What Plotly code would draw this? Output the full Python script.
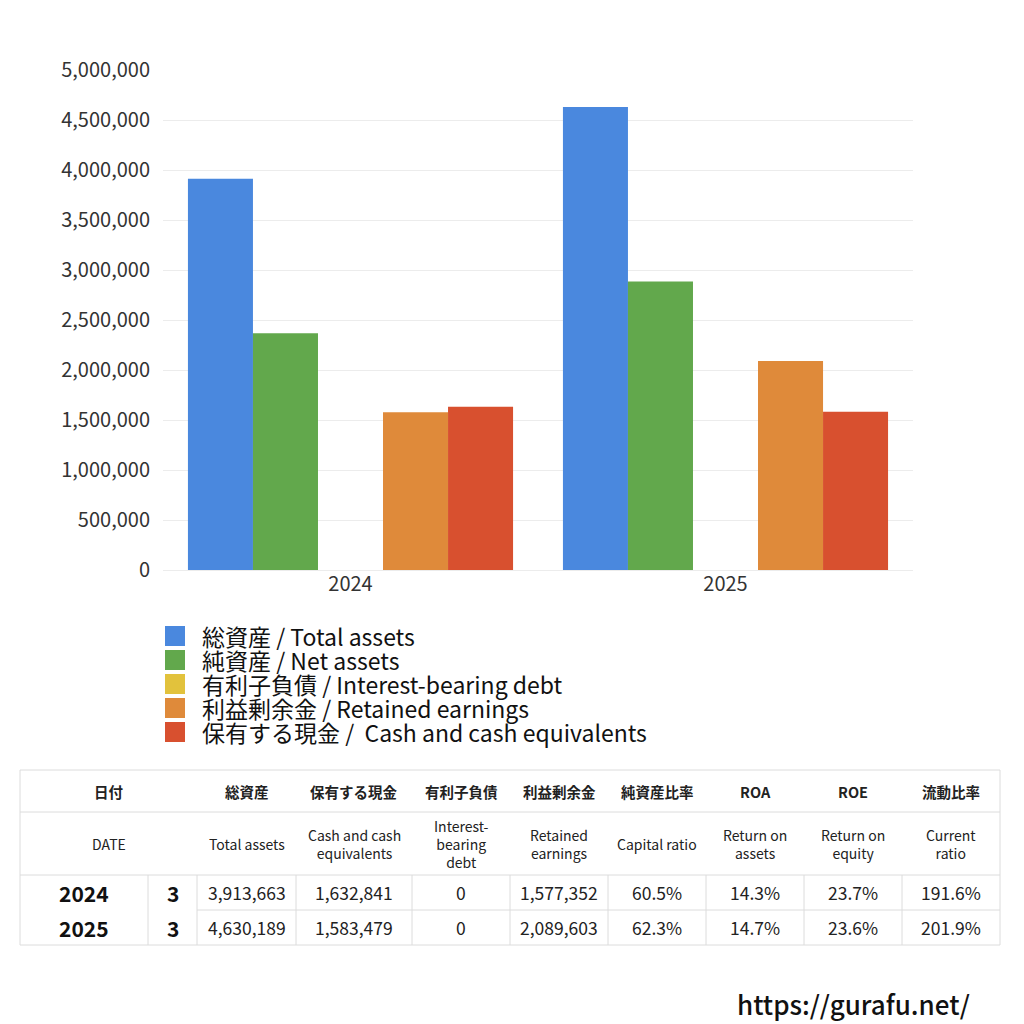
import plotly.graph_objects as go

# ---------------- data ----------------
years = ["2024", "2025"]
total_assets = [3913663, 4630189]
net_assets = [2368000, 2885000]
interest_debt = [0, 0]
retained_earnings = [1577352, 2089603]
cash = [1632841, 1583479]

months = ["3", "3"]
capital_ratio = ["60.5%", "62.3%"]
roa = ["14.3%", "14.7%"]
roe = ["23.7%", "23.6%"]
current_ratio = ["191.6%", "201.9%"]

series_names = [
    "総資産 / Total assets",
    "純資産 / Net assets",
    "有利子負債 / Interest-bearing debt",
    "利益剰余金 / Retained earnings",
    "保有する現金 /  Cash and cash equivalents",
]
series_colors = ["#4a88de", "#62a84c", "#e2c23c", "#df8a3a", "#d8502f"]

table_head_jp = ["日付", "総資産", "保有する現金", "有利子負債", "利益剰余金",
                 "純資産比率", "ROA", "ROE", "流動比率"]
table_head_en = ["DATE", "Total assets", "Cash and cash<br>equivalents",
                 "Interest-<br>bearing<br>debt", "Retained<br>earnings",
                 "Capital ratio", "Return on<br>assets", "Return on<br>equity",
                 "Current<br>ratio"]

W = H = 1024
OFF = 8  # page body margin
FONT = "Noto Sans CJK JP"


def px(x):
    return (x - OFF) / W


def py(y):
    return 1 - (y - OFF) / H


fig = go.Figure()
series_values = [total_assets, net_assets, interest_debt, retained_earnings, cash]
for name, vals, col in zip(series_names, series_values, series_colors):
    fig.add_trace(go.Bar(x=years, y=vals, name=name, showlegend=False,
                         marker=dict(color=col, line=dict(width=0))))

fig.update_layout(
    width=W, height=H,
    margin=dict(l=0, r=0, t=0, b=0, pad=0, autoexpand=False),
    paper_bgcolor="white", plot_bgcolor="white",
    font=dict(family=FONT, color="#222"),
    barmode="group", bargap=0.133, bargroupgap=0,
    xaxis=dict(domain=[px(163), px(913)], showgrid=False, showline=False, automargin=False,
               ticks="", tickfont=dict(size=20, color="#333"), type="category"),
    yaxis=dict(domain=[py(570), py(70)], range=[0, 5000000], dtick=500000, automargin=False,
               tickformat=",", showgrid=True, gridcolor="#ececec", gridwidth=1,
               zeroline=True, zerolinecolor="#ececec", zerolinewidth=1,
               showline=False, ticks="", ticklabelstandoff=12,
               tickfont=dict(size=20, color="#333")),
    showlegend=False,
)

shapes = []
annots = []

# ---------------- legend (manual, one row per series) ----------------
legend_x = 165
legend_rows = [636, 660, 684, 708, 732]
for name, col, ry in zip(series_names, series_colors, legend_rows):
    shapes.append(dict(type="rect", xref="paper", yref="paper",
                       x0=px(legend_x), x1=px(legend_x + 20), y0=py(ry + 10), y1=py(ry - 10),
                       fillcolor=col, line=dict(width=0)))
    annots.append(dict(xref="paper", yref="paper", x=px(legend_x + 35), y=py(ry), text=name,
                       showarrow=False, xanchor="left", yanchor="middle",
                       font=dict(size=23, family=FONT, color="#111")))

# ---------------- table ----------------
LC = "#dcdcdc"
left, right = 20, 1000
y_top, y_h1, y_h2, y_r1, y_bot = 770, 812, 875, 910, 945
col_edges = [20, 148, 197, 296, 412, 510, 608, 706, 804, 902, 1000]


def hline(x0, x1, y):
    shapes.append(dict(type="line", xref="paper", yref="paper", x0=px(x0), x1=px(x1),
                       y0=py(y), y1=py(y), line=dict(color=LC, width=1)))


def vline(x, y0, y1):
    shapes.append(dict(type="line", xref="paper", yref="paper", x0=px(x), x1=px(x),
                       y0=py(y0), y1=py(y1), line=dict(color=LC, width=1)))


hline(left, right, y_top)
hline(left, right, y_h1)
hline(left, right, y_h2)
hline(col_edges[2], right, y_r1)
hline(left, right, y_bot)
vline(left, y_top, y_bot)
vline(right, y_top, y_bot)
for e in col_edges[1:-1]:
    vline(e, y_h2, y_bot)


def text(x, y, s, size, bold=False, color="#222"):
    annots.append(dict(xref="paper", yref="paper", x=px(x), y=py(y), text=s,
                       showarrow=False, xanchor="center", yanchor="middle",
                       font=dict(size=size, family=FONT, color=color,
                                 weight="bold" if bold else "normal")))


hcenters = [(col_edges[0] + col_edges[2]) / 2] + [
    (col_edges[i] + col_edges[i + 1]) / 2 for i in range(2, len(col_edges) - 1)]
for cx, jp, en in zip(hcenters, table_head_jp, table_head_en):
    text(cx, (y_top + y_h1) / 2, jp, 14.5, bold=True)
    text(cx, (y_h1 + y_h2) / 2, en, 14, bold=False)

row_ys = [(y_h2 + y_r1) / 2, (y_r1 + y_bot) / 2]
for i in range(len(years)):
    row = [f"{total_assets[i]:,}", f"{cash[i]:,}", f"{interest_debt[i]:,}",
           f"{retained_earnings[i]:,}", capital_ratio[i], roa[i], roe[i], current_ratio[i]]
    text((col_edges[0] + col_edges[1]) / 2, row_ys[i], years[i], 21, bold=True, color="#111")
    text((col_edges[1] + col_edges[2]) / 2, row_ys[i], months[i], 21, bold=True, color="#111")
    for j, v in enumerate(row):
        cx = (col_edges[j + 2] + col_edges[j + 3]) / 2
        text(cx, row_ys[i], v, 17.5, color="#222")

# watermark
annots.append(dict(xref="paper", yref="paper", x=px(972), y=py(1003), text="https://gurafu.net/",
                   showarrow=False, xanchor="right", yanchor="middle",
                   font=dict(size=26, family=FONT, color="#111", weight=500)))

fig.update_layout(shapes=shapes, annotations=annots)
fig.write_html("out.html")
